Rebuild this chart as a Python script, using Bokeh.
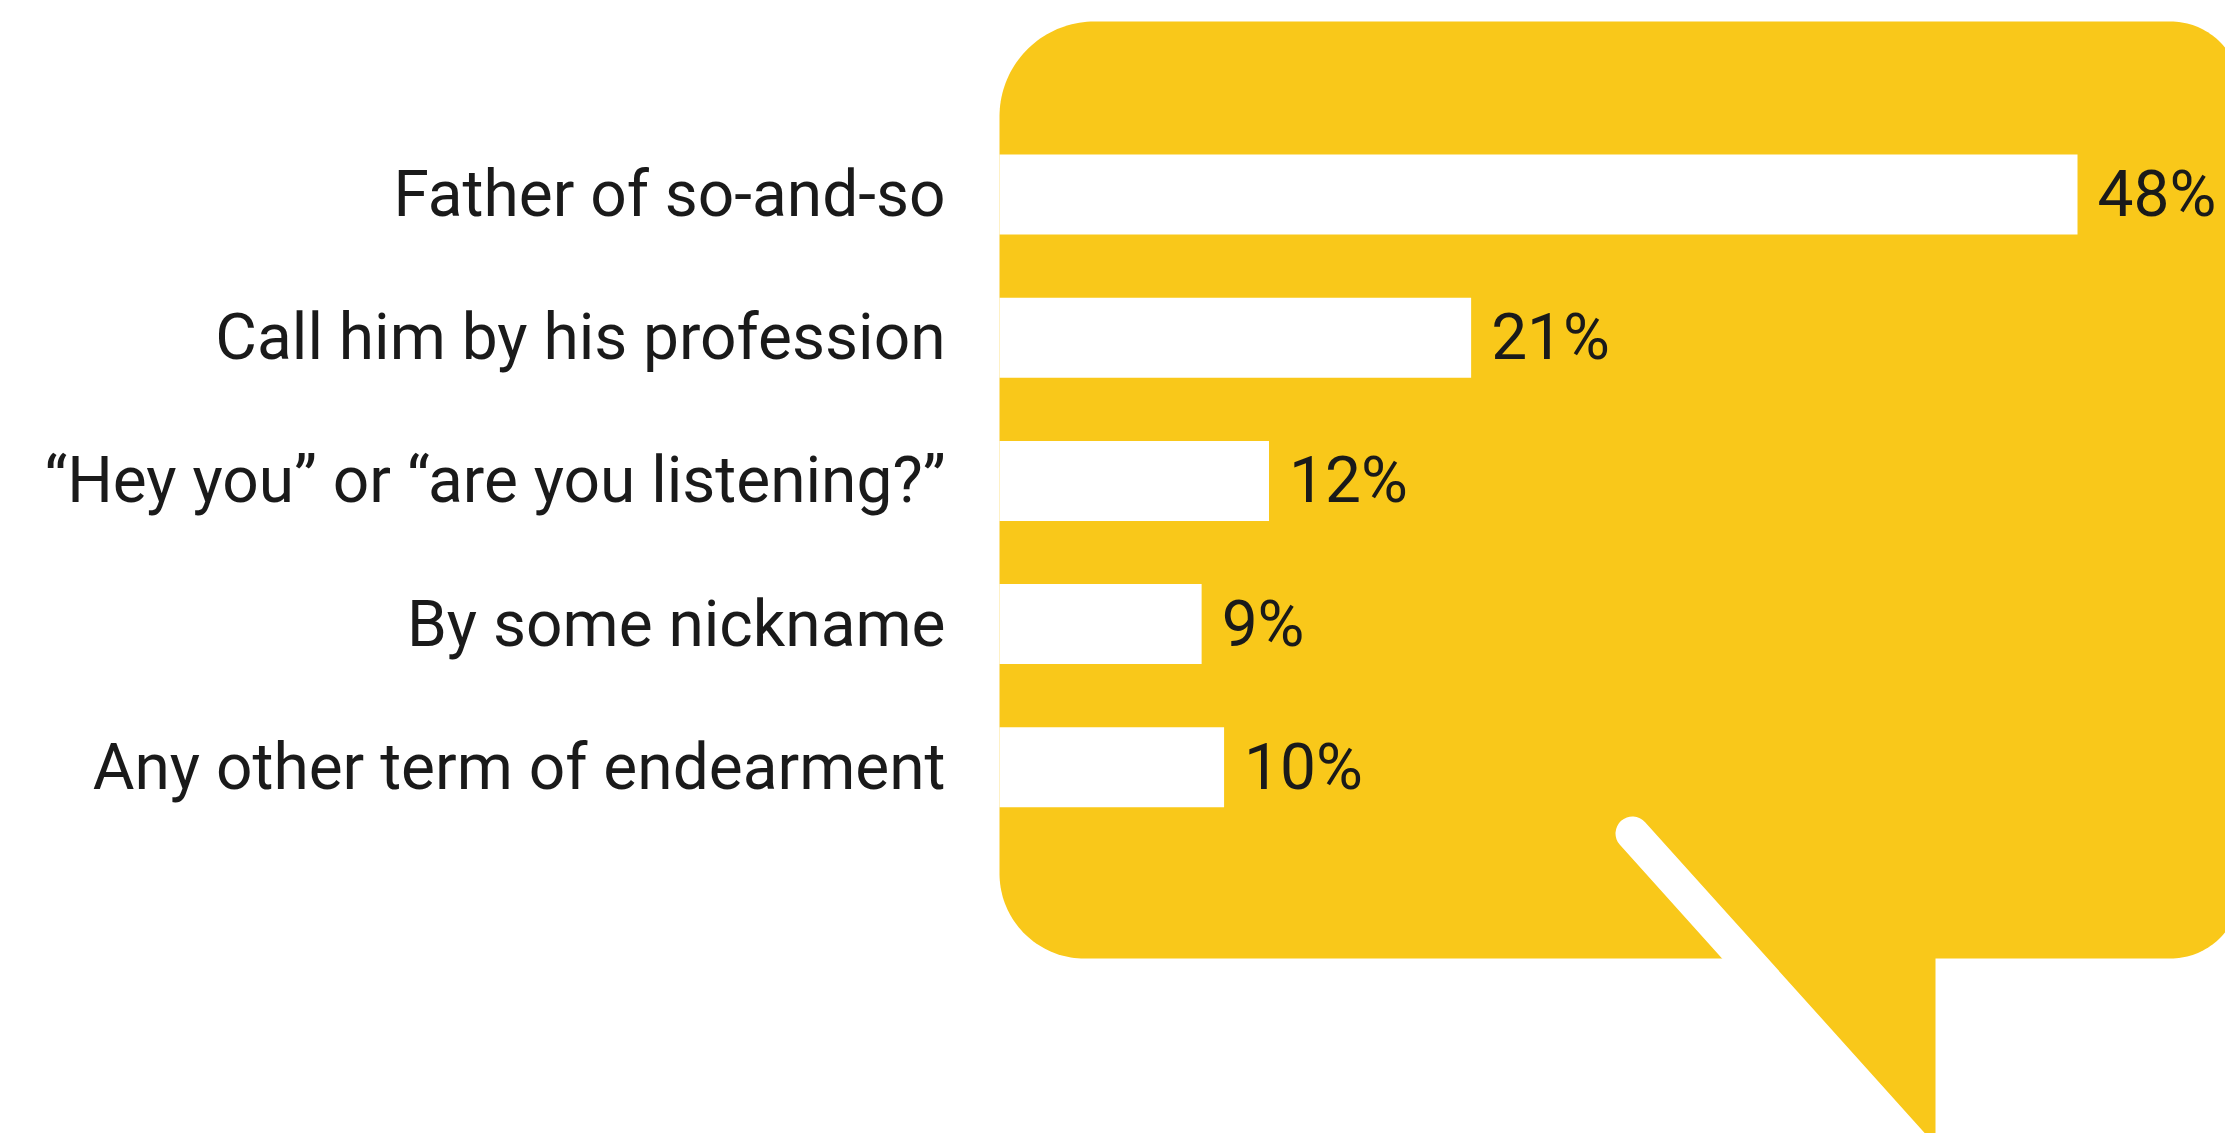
import numpy as np
from bokeh.plotting import figure
from bokeh.models import Range1d, ColumnDataSource
from bokeh.core.properties import value
from bokeh.embed import file_html
from bokeh.resources import INLINE

# ---- data ----
categories = [
    "Father of so-and-so",
    "Call him by his profession",
    "\u201cHey you\u201d or \u201care you listening?\u201d",
    "By some nickname",
    "Any other term of endearment",
]
shares = [48, 21, 12, 9, 10]
share_labels = ["48%", "21%", "12%", "9%", "10%"]

# ---- layout ----
W, H = 2225, 1133
ORIGIN = 0                 # page px where the figure frame starts
PX_PER_PCT = 1078 / 48.0   # screen px per percentage point
ROW_PX = 143.2             # screen px between rows
ZERO_PX = 999              # page px of the 0% baseline (bubble left edge)
ROW0_PX = 194              # page px of first row centre

YELLOW = "#F9C81A"
INK = "#1a1a1a"
FONT = "Roboto"
FSIZE = "64px"


def fx(px):
    return (px - ZERO_PX) / PX_PER_PCT


def fy(py):
    return (py - ROW0_PX) / ROW_PX


p = figure(
    width=W, height=H,
    x_range=Range1d(fx(ORIGIN), fx(ORIGIN + W)),
    y_range=Range1d(fy(ORIGIN + H), fy(ORIGIN)),
    output_backend="svg", toolbar_location=None,
    min_border=0, min_border_left=0, min_border_right=0,
    min_border_top=0, min_border_bottom=0,
)
p.axis.visible = False
p.grid.visible = False
p.outline_line_color = None
p.background_fill_color = "white"
p.border_fill_color = "white"


def rounded_rect(l, t, r, b, rtl, rtr, rbr, rbl, n=40):
    xs, ys = [], []
    for (cx, cy, rad, a0, a1) in [
        (l + rtl, t + rtl, rtl, np.pi, 1.5 * np.pi),
        (r - rtr, t + rtr, rtr, 1.5 * np.pi, 2 * np.pi),
        (r - rbr, b - rbr, rbr, 0.0, 0.5 * np.pi),
        (l + rbl, b - rbl, rbl, 0.5 * np.pi, np.pi),
    ]:
        th = np.linspace(a0, a1, n)
        xs.extend(cx + rad * np.cos(th))
        ys.extend(cy + rad * np.sin(th))
    return [fx(x) for x in xs], [fy(y) for y in ys]


# speech bubble body
bx, by = rounded_rect(999, 21, 2240, 958, 95, 70, 70, 85)
p.patch(bx, by, fill_color=YELLOW, line_color=None)

# bubble tail
tail_px = [(1692, 900), (1935, 900), (1935, 1140), (1908, 1140)]
p.patch([fx(a) for a, _ in tail_px], [fy(b) for _, b in tail_px],
        fill_color=YELLOW, line_color=None)

# white stripe cutting the tail
p.line([fx(1632), fx(1944)], [fy(833), fy(1180)], line_color="white",
       line_width=34, line_cap="round")

# bars
idx = list(range(len(categories)))
src = ColumnDataSource(dict(y=idx, v=shares, cat=categories, lab=share_labels))
p.hbar(y="y", left=0, right="v", height=80 / ROW_PX, source=src,
       fill_color="white", line_color=None)

# category labels
p.text(x=0, y="y", text="cat", source=src, x_offset=-54,
       text_align="right", text_baseline="middle",
       text_font=value(FONT), text_font_size=FSIZE, text_color=INK)

# value labels
p.text(x="v", y="y", text="lab", source=src, x_offset=20,
       text_align="left", text_baseline="middle",
       text_font=value(FONT), text_font_size=FSIZE, text_color=INK)

open("out.html", "w").write(file_html(p, INLINE))
